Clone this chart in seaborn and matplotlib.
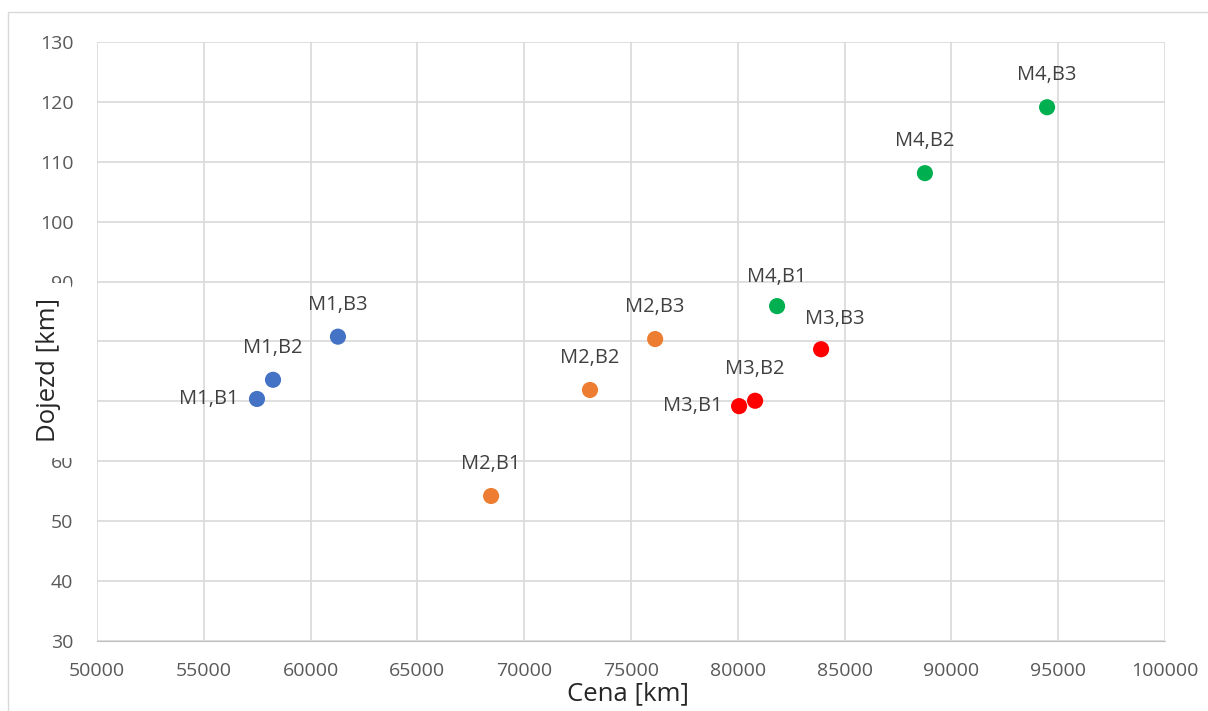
import pandas as pd
import seaborn as sns
import matplotlib.pyplot as plt
from matplotlib.patches import Rectangle

# data
labels = ['M1,B1', 'M1,B2', 'M1,B3',
          'M2,B1', 'M2,B2', 'M2,B3',
          'M3,B1', 'M3,B2', 'M3,B3',
          'M4,B1', 'M4,B2', 'M4,B3']
groups = ['M1'] * 3 + ['M2'] * 3 + ['M3'] * 3 + ['M4'] * 3
cena = [57490, 58240, 61280,
        68450, 73080, 76130,
        80060, 80810, 83900,
        81840, 88760, 94480]
dojezd = [70.4, 73.6, 80.8,
          54.2, 71.9, 80.4,
          69.2, 70.1, 78.7,
          85.9, 108.1, 119.1]
yticks = list(range(30, 131, 10))
# 70 and 80 are hidden behind the y title in the original
ytick_labels = ['' if t in (70, 80) else str(t) for t in yticks]
colors = {'M1': '#4472C4', 'M2': '#ED7D31', 'M3': '#FF0000', 'M4': '#00B050'}

df = pd.DataFrame({'label': labels, 'group': groups, 'Cena': cena, 'Dojezd': dojezd})

sns.set_style('white')
plt.rcParams['font.family'] = ['Open Sans', 'DejaVu Sans']

fig = plt.figure(figsize=(12.08, 7.11), dpi=100)
ax = fig.add_axes([0.0803, 0.0985, 0.8841, 0.8425])

sns.scatterplot(data=df, x='Cena', y='Dojezd', hue='group', palette=colors,
                s=135, edgecolor='none', legend=False, ax=ax, zorder=3)

# label offsets in points (dx, dy); most labels sit above their point
offsets = {'M1,B1': (-13, 0), 'M3,B1': (-11.5, 0), 'M3,B3': (10, 22), 'M4,B1': (0, 21)}
for _, r in df.iterrows():
    dx, dy = offsets.get(r['label'], (0, 23))
    ha = 'right' if dx < 0 and dy == 0 else 'center'
    ax.annotate(r['label'], (r['Cena'], r['Dojezd']), xytext=(dx, dy),
                textcoords='offset points', ha=ha, va='center',
                fontsize=14.5, color='#404040')

ax.set_xlim(50000, 100000)
ax.set_ylim(30, 130)
ax.set_xticks(range(50000, 100001, 5000))
ax.set_yticks(yticks, ytick_labels)
ax.grid(True, color='#D9D9D9', linewidth=1.2)
ax.set_axisbelow(True)
for side in ['top', 'right', 'left']:
    ax.spines[side].set_visible(False)
ax.spines['bottom'].set_color('#BFBFBF')
ax.tick_params(axis='both', length=0, labelsize=14, labelcolor='#595959')
ax.tick_params(axis='x', pad=15)
ax.tick_params(axis='y', pad=17)
ax.set_xlabel('')
ax.set_ylabel('')

fig.text(0.52, 0.024, 'Cena [km]', ha='center', va='center', fontsize=18.5, color='#262626')

# y title sits on a white box that clips the 60 and 90 labels, as in the original
fig.patches.append(Rectangle((24 / 1208, 1 - 458 / 711), 47 / 1208, 175 / 711,
                             transform=fig.transFigure, facecolor='white',
                             edgecolor='none', zorder=5))
fig.text(0.0405, 1 - 370 / 711, 'Dojezd [km]', ha='center', va='center', rotation=90,
         fontsize=18.5, color='#262626', zorder=6)

# light chart frame
fig.patches.append(Rectangle((0.007, -0.01), 1.0, 0.993, transform=fig.transFigure,
                             fill=False, edgecolor='#D9D9D9', linewidth=1))

fig.savefig('out.png', dpi=100)
